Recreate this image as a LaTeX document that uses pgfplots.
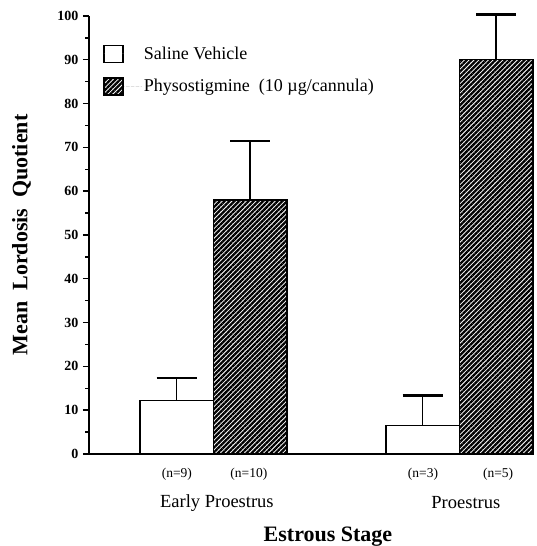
\documentclass[border=0pt]{standalone}
\usepackage{fontspec}
\setmainfont{Liberation Serif}
\usepackage{pgfplots}
\pgfplotsset{compat=1.18}
\usetikzlibrary{patterns.meta}

\tikzset{hatch/.style={pattern={Lines[angle=45,distance=3.4pt,line width=2.3pt]}}}

\begin{document}
\begin{tikzpicture}
\useasboundingbox (-89pt,-92pt) rectangle (447pt,454pt);
\begin{axis}[
    scale only axis,
    width=444pt, height=438pt,
    xmin=-0.506, xmax=1.299,
    ymin=0, ymax=100,
    clip=false,
    axis x line=bottom, axis y line=left,
    axis line style={-, line width=1.8pt},
    xtick=\empty,
    ytick={0,10,...,100},
    minor y tick num=1,
    tick align=outside,
    major tick length=6pt, minor tick length=3.5pt,
    tick style={line width=1.4pt, black},
    yticklabel style={font=\bfseries\fontsize{14}{14}\selectfont, xshift=-1pt},
    /pgf/number format/assume math mode=true,
    ybar=0pt, bar width=73.5pt,
    error bars/y dir=plus, error bars/y explicit,
    error bars/error bar style={line width=1.5pt, black},
    error bars/error mark options={rotate=90, mark size=20pt, line width=2.5pt, black},
    legend style={draw=none, fill=none, at={(0.0315,0.935)}, anchor=north west,
        inner sep=0pt, row sep=14pt, cells={anchor=west},
        font=\fontsize{18}{18}\selectfont},
    legend cell align=left,
]
\addplot[draw=black, line width=1.5pt, fill=white,
    legend image code/.code={\draw[black, line width=1.5pt, fill=white] (0pt,-8.5pt) rectangle (19pt,8.5pt); \path[draw=none] (0pt,0pt) -- (38pt,0pt);}]
    coordinates {
    (0,12.2) +- (0,5.2)
    (1,6.5)  +- (0,6.8)
    };
\addplot[draw=black, line width=1.5pt, hatch,
    legend image code/.code={\draw[black, line width=1.5pt, hatch] (0pt,-8.5pt) rectangle (19pt,8.5pt); \path[draw=none] (0pt,0pt) -- (38pt,0pt);}]
    coordinates {
    (0,58.0) +- (0,13.5)
    (1,90.1) +- (0,10.2)
    };
\legend{Saline Vehicle, Physostigmine\ \ (10 µg/cannula)}

\node[font=\fontsize{13.5}{13.5}\selectfont] at (axis cs:-0.149,0) [yshift=-20pt] {(n=9)};
\node[font=\fontsize{13.5}{13.5}\selectfont] at (axis cs:0.144,0) [yshift=-20pt] {(n=10)};
\node[font=\fontsize{13.5}{13.5}\selectfont] at (axis cs:0.852,0) [yshift=-20pt] {(n=3)};
\node[font=\fontsize{13.5}{13.5}\selectfont] at (axis cs:1.157,0) [yshift=-20pt] {(n=5)};
\node[font=\fontsize{18.5}{18.5}\selectfont] at (axis cs:0.014,0) [yshift=-49pt] {Early Proestrus};
\node[font=\fontsize{18.5}{18.5}\selectfont] at (axis cs:1.026,0) [yshift=-49pt] {Proestrus};
\end{axis}
\node[font=\bfseries\fontsize{22}{22}\selectfont] at (239pt,-83pt) {Estrous Stage};
\node[font=\bfseries\fontsize{22}{22}\selectfont, rotate=90] at (-67.5pt,219pt) {Mean\ \ Lordosis\ \ Quotient};
\end{tikzpicture}
\end{document}
